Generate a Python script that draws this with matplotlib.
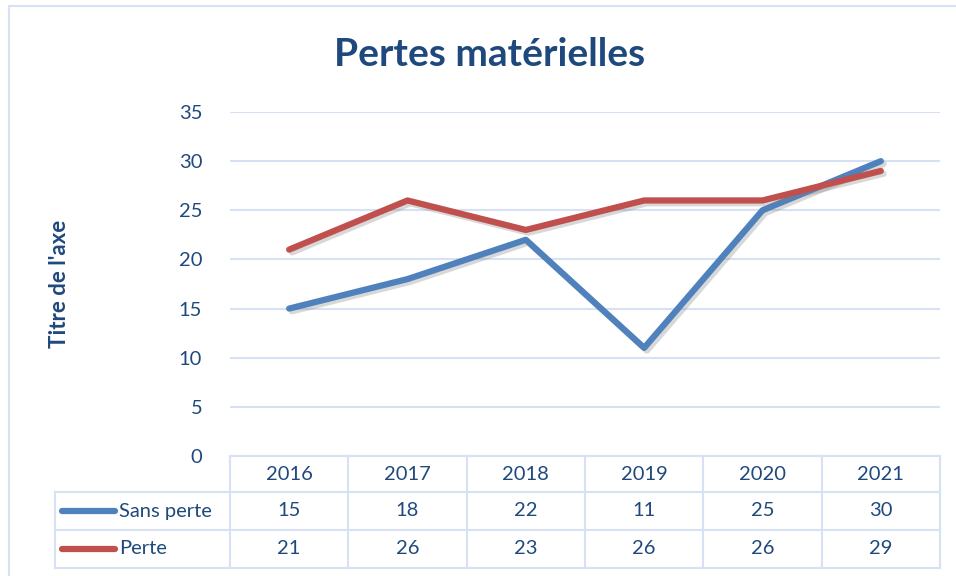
import matplotlib
matplotlib.use("Agg")
import matplotlib.pyplot as plt
import matplotlib.patheffects as pe
from matplotlib.lines import Line2D
from matplotlib.patches import Rectangle

plt.rcParams['font.family'] = ['Lato', 'DejaVu Sans']

years = ["2016", "2017", "2018", "2019", "2020", "2021"]
sans_perte = [15, 18, 22, 11, 25, 30]
perte = [21, 26, 23, 26, 26, 29]
series_names = ["Sans perte", "Perte"]
title = "Pertes matérielles"
ylabel = "Titre de l'axe"

BLUE = "#4F81BD"
RED = "#C0504D"
TXT = "#1F497D"
GRID = "#D6E2F3"

W, H = 956, 576
fig = plt.figure(figsize=(W / 100, H / 100), dpi=100)

def fx(px):
    return px / W

def fy(py):
    return 1 - py / H

# outer chart frame
fig.add_artist(Rectangle((fx(9), fy(590)), fx(960) - fx(9), fy(6) - fy(590),
                         transform=fig.transFigure, fill=False,
                         edgecolor=GRID, lw=1.5))

L, R, T, B = 230, 940, 112, 456
ax = fig.add_axes([fx(L), fy(B), fx(R) - fx(L), fy(T) - fy(B)])
ax.set_xlim(-0.5, len(years) - 0.5)
ax.set_ylim(0, 35)
ax.set_yticks(range(0, 36, 5))
ax.set_xticks([])
for s in ax.spines.values():
    s.set_visible(False)
ax.yaxis.grid(True, color=GRID, lw=1.5)
ax.set_axisbelow(True)
ax.tick_params(axis='y', length=0, pad=20, labelsize=14.5, labelcolor=TXT)

shadow = [pe.SimpleLineShadow(offset=(2, -2), shadow_color='gray', alpha=0.3), pe.Normal()]
x = list(range(len(years)))
ax.plot(x, sans_perte, color=BLUE, lw=4.5, solid_capstyle='round',
        solid_joinstyle='round', path_effects=shadow, zorder=3)
ax.plot(x, perte, color=RED, lw=4.5, solid_capstyle='round',
        solid_joinstyle='round', path_effects=shadow, zorder=4)

fig.text(fx(490), fy(54), title, ha='center', va='center', fontsize=28,
         fontweight='bold', color=TXT)
fig.text(fx(59), fy(284), ylabel, ha='center', va='center', rotation=90,
         fontsize=16, fontweight='bold', color=TXT)

# data table
row_y = [456, 492, 530, 568]
colw = (R - L) / len(years)
tl = dict(transform=fig.transFigure, color=GRID, lw=1.5)
fig.add_artist(Line2D([fx(L), fx(R)], [fy(row_y[0])] * 2, **tl))
for yy in row_y[1:]:
    fig.add_artist(Line2D([fx(55), fx(R)], [fy(yy)] * 2, **tl))
for k in range(len(years) + 1):
    xx = L + k * colw
    fig.add_artist(Line2D([fx(xx)] * 2, [fy(row_y[0]), fy(row_y[3])], **tl))
fig.add_artist(Line2D([fx(55)] * 2, [fy(row_y[1]), fy(row_y[3])], **tl))

for i, yr in enumerate(years):
    cx = L + (i + 0.5) * colw
    fig.text(fx(cx), fy((row_y[0] + row_y[1]) / 2), yr, ha='center', va='center',
             fontsize=14.5, color=TXT)
    fig.text(fx(cx), fy((row_y[1] + row_y[2]) / 2), str(sans_perte[i]), ha='center',
             va='center', fontsize=14.5, color=TXT)
    fig.text(fx(cx), fy((row_y[2] + row_y[3]) / 2), str(perte[i]), ha='center',
             va='center', fontsize=14.5, color=TXT)

for j, (name, col) in enumerate(zip(series_names, [BLUE, RED])):
    cy = (row_y[j + 1] + row_y[j + 2]) / 2
    fig.add_artist(Line2D([fx(62), fx(115)], [fy(cy)] * 2, transform=fig.transFigure,
                          color=col, lw=4.5, solid_capstyle='round'))
    fig.text(fx(119), fy(cy), name, ha='left', va='center', fontsize=14.5, color=TXT)

fig.savefig("out.png", dpi=100, facecolor='white')
